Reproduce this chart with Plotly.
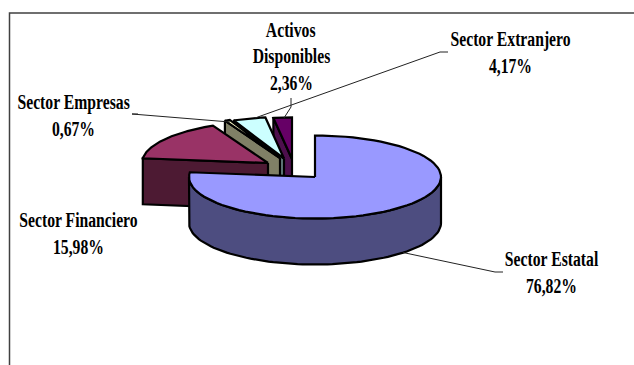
import numpy as np
import plotly.graph_objects as go

# Data
categories = ["Sector Estatal", "Sector Financiero", "Sector Empresas", "Sector Extranjero", "Activos Disponibles"]
shares = [76.82, 15.98, 0.67, 4.17, 2.36]
share_labels = ["76,82%", "15,98%", "0,67%", "4,17%", "2,36%"]

# Style and layout of the exploded 3D pie
top_colors = ["#9999FF", "#993366", "#FFFFCC", "#CCFFFF", "#660066"]
side_colors = ["#4D4D80", "#4D1A33", "#808066", "#668080", "#4D0F4D"]
apex_x = [315, 268, 280, 284, 292]
apex_y = [177, 163, 158, 158.5, 159]
RX, RY, DEPTH = 126, 41.5, 46
FONT = "Liberation Serif"
FONT_SIZE = 20
TEXT_X_SCALE = 0.785
label_lines = [
    ["Sector Estatal"], ["Sector Financiero"], ["Sector Empresas"],
    ["Sector Extranjero"], ["Activos", "Disponibles"],
]
label_cx = [551, 78, 73, 510, 291]
label_first_y = [259, 220, 102, 39.5, 30]
LINE_GAP = 26.5
leaders = [
    ([403, 495, 503], [252.5, 272, 272]),
    ([138, 132, 230], [114, 114, 122]),
    ([255, 440, 448], [118, 52, 52]),
    ([291, 291, 284], [98, 107, 118]),
]

fig = go.Figure()


def arc(cx, cy, a0, a1, dy=0.0, n=80):
    t = np.radians(np.linspace(a0, a1, n))
    return cx + RX * np.sin(t), cy - RY * np.cos(t) + dy


def poly(x, y, color):
    fig.add_trace(go.Scatter(
        x=np.append(x, x[0]), y=np.append(y, y[0]), mode="lines", fill="toself",
        fillcolor=color, line=dict(color="black", width=2.2, shape="linear"),
        hoverinfo="skip", showlegend=False,
    ))


edges = np.concatenate([[0], np.cumsum(shares)]) / sum(shares) * 360
# painter's order: rear slices first, the large front slice last
for i in [4, 3, 2, 1, 0]:
    a0, a1 = edges[i], edges[i + 1]
    cx, cy = apex_x[i], apex_y[i]
    if i == 0:
        wx, wy = arc(cx, cy, 90, 270)
        bx, by = arc(cx, cy, 270, 90, DEPTH)
        poly(np.concatenate([wx, bx]), np.concatenate([wy, by]), side_colors[i])
    else:
        ox, oy = arc(cx, cy, a0, a0, n=1)
        poly(np.array([cx, ox[0], ox[0], cx]),
             np.array([cy, oy[0], oy[0] + DEPTH, cy + DEPTH]), side_colors[i])
    ax, ay = arc(cx, cy, a0, a1)
    poly(np.concatenate([[cx], ax]), np.concatenate([[cy], ay]), top_colors[i])

for lx, ly in leaders:
    fig.add_trace(go.Scatter(x=lx, y=ly, mode="lines", line=dict(color="#222222", width=1),
                             hoverinfo="skip", showlegend=False))

# frame (left and top edges only are visible)
fig.add_trace(go.Scatter(x=[9.5, 9.5, 634], y=[365, 13, 13], mode="lines",
                         line=dict(color="#404040", width=1.5), hoverinfo="skip", showlegend=False))

for i in range(len(categories)):
    lines = label_lines[i] + [share_labels[i]]
    for k, text in enumerate(lines):
        fig.add_annotation(x=label_cx[i], y=label_first_y[i] + k * LINE_GAP, text=f"<b>{text}</b>",
                           showarrow=False, xanchor="center", yanchor="middle",
                           font=dict(family=FONT, size=FONT_SIZE, color="black"))

fig.update_layout(
    width=634, height=365, autosize=False, margin=dict(l=0, r=0, t=0, b=0),
    paper_bgcolor="white", plot_bgcolor="white", showlegend=False,
    xaxis=dict(range=[0, 634], visible=False, fixedrange=True),
    yaxis=dict(range=[365, 0], visible=False, fixedrange=True),
)
# The reference's labels are horizontally squeezed: narrow each real text element about its centre.
squeeze = (
    "document.body.style.margin='0';document.body.style.overflow='hidden';"
    "document.querySelectorAll('text.annotation-text').forEach(function(t){"
    "var b=t.getBBox();var c=b.x+b.width/2;"
    "t.setAttribute('transform','translate('+c+',0) scale(%s,1) translate('+(-c)+',0)');});"
    % TEXT_X_SCALE
)
fig.write_html("out.html", config={"displayModeBar": False}, post_script=squeeze)
